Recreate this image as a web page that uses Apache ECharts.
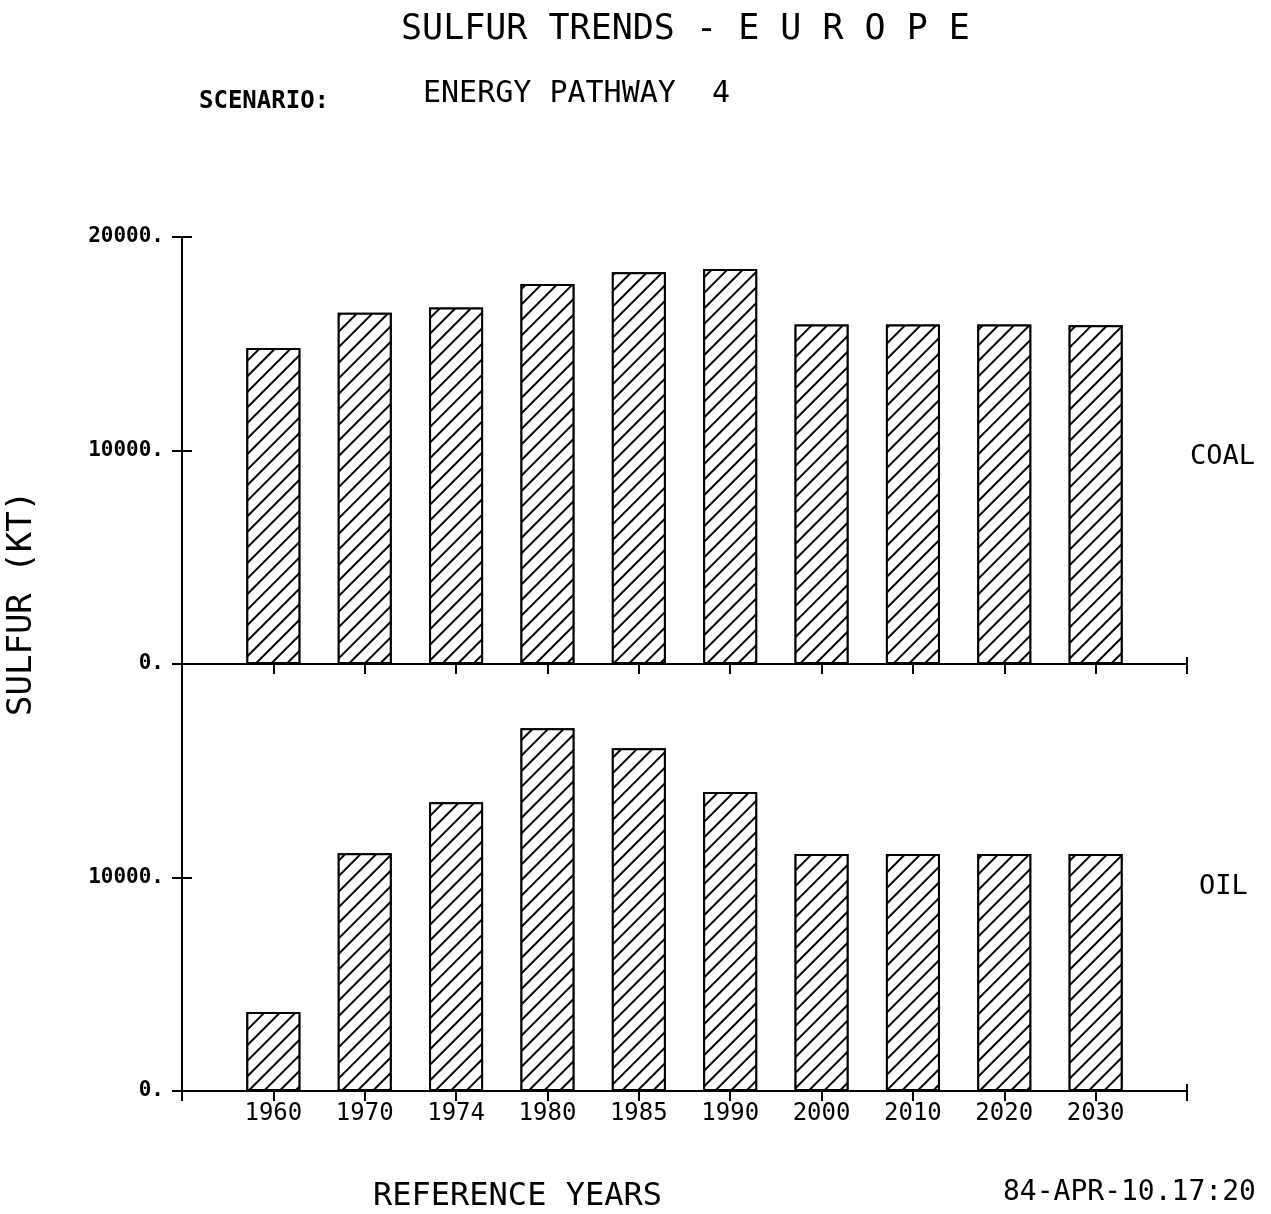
<!DOCTYPE html>
<html>
<head>
<meta charset="utf-8">
<title>Sulfur trends - Europe</title>
<script src="https://cdn.jsdelivr.net/npm/echarts@6/dist/echarts.min.js"></script>
<style>
  html, body { margin: 0; padding: 0; background: #fff; }
  #chart { width: 1271px; height: 1214px; }
</style>
</head>
<body>
<div id="chart"></div>
<script>
// reference years, with an empty slot at each end of the axis
var years = ["", "1960", "1970", "1974", "1980", "1985", "1990", "2000", "2010", "2020", "2030", ""];
// kt of sulfur
var coal = [null, 14800, 16450, 16700, 17800, 18350, 18500, 15900, 15900, 15900, 15870, null];
var oil = [null, 3700, 11130, 13520, 16990, 16050, 14000, 11100, 11100, 11100, 11100, null];
var yTicks = [0, 10000, 20000];

var mono = "DejaVu Sans Mono";
var chart = echarts.init(document.getElementById("chart"));

var hatch = {
  symbol : "rect",
  symbolSize : 1,
  color : "#000",
  backgroundColor : "#fff",
  dashArrayX : [1, 0],
  dashArrayY : [2, 9],
  rotation : -Math.PI / 4
};

// ticks cross the axis line, so every axis is drawn twice: outside + inside ticks
function xAx(grid, inside, showLabel)
{
  return {
    type : "category",
    gridIndex : grid,
    position : "bottom",
    data : years,
    boundaryGap : false,
    axisLine : { show : !inside, lineStyle : { color : "#000", width : 2 } },
    axisTick : { show : true, inside : inside, length : inside ? 7 : 10, alignWithLabel : true,
                 lineStyle : { color : "#000", width : 2 } },
    axisLabel : {
      show : showLabel && !inside,
      color : "#000",
      fontFamily : mono,
      fontSize : 24,
      margin : 11
    },
    splitLine : { show : false }
  };
}

function yAx(grid, inside, hideTop)
{
  return {
    type : "value",
    gridIndex : grid,
    position : "left",
    min : yTicks[0],
    max : yTicks[yTicks.length - 1],
    interval : 10000,
    axisLine : { show : !inside, lineStyle : { color : "#000", width : 2 } },
    axisTick : { show : true, inside : inside, length : 10, lineStyle : { color : "#000", width : 2 } },
    axisLabel : {
      show : !inside,
      color : "#000",
      fontFamily : mono,
      fontWeight : "bold",
      fontSize : 21,
      margin : 18,
      formatter : function(v){
        if(hideTop && v == 20000)
        {
          return "";
        }
        return v + ".";
      }
    },
    splitLine : { show : false }
  };
}

function txt(text, left, top, size, weight)
{
  return {
    text : text,
    left : left,
    top : top,
    textStyle : { color : "#000", fontFamily : mono, fontSize : size, fontWeight : weight || "normal" }
  };
}

var option = {
  backgroundColor : "#fff",
  animation : false,
  title : [
    txt("SULFUR TRENDS - E U R O P E", 396, 7, 35),
    txt("SCENARIO:", 194, 85, 24, "bold"),
    txt("ENERGY PATHWAY  4", 418, 74, 30),
    txt("COAL", 1185, 438, 27),
    txt("OIL", 1194, 868, 27),
    txt("REFERENCE YEARS", 368, 1176, 32),
    txt("84-APR-10.17:20", 998, 1174, 28)
  ],
  graphic : [{
    type : "text",
    x : 5,
    y : 716,
    rotation : Math.PI / 2,
    style : { text : "SULFUR (KT)", fill : "#000", font : "34px 'DejaVu Sans Mono'" }
  }],
  // both panels share the 0 / 20000 line at y = 664
  grid : [
    { left : 182, top : 237, width : 1005, height : 427 },
    { left : 182, top : 664, width : 1005, height : 427 }
  ],
  xAxis : [xAx(0, false, false), xAx(0, true, false), xAx(1, false, true), xAx(1, true, false)],
  yAxis : [yAx(0, false, false), yAx(0, true, false), yAx(1, false, true), yAx(1, true, true)],
  series : [{
    name : "COAL",
    type : "bar",
    xAxisIndex : 0,
    yAxisIndex : 0,
    data : coal,
    barWidth : 54,
    itemStyle : { color : "#fff", borderColor : "#000", borderWidth : 2, decal : hatch }
  },{
    name : "OIL",
    type : "bar",
    xAxisIndex : 2,
    yAxisIndex : 2,
    data : oil,
    barWidth : 54,
    itemStyle : { color : "#fff", borderColor : "#000", borderWidth : 2, decal : hatch }
  }]
};

chart.setOption(option);
</script>
</body>
</html>
